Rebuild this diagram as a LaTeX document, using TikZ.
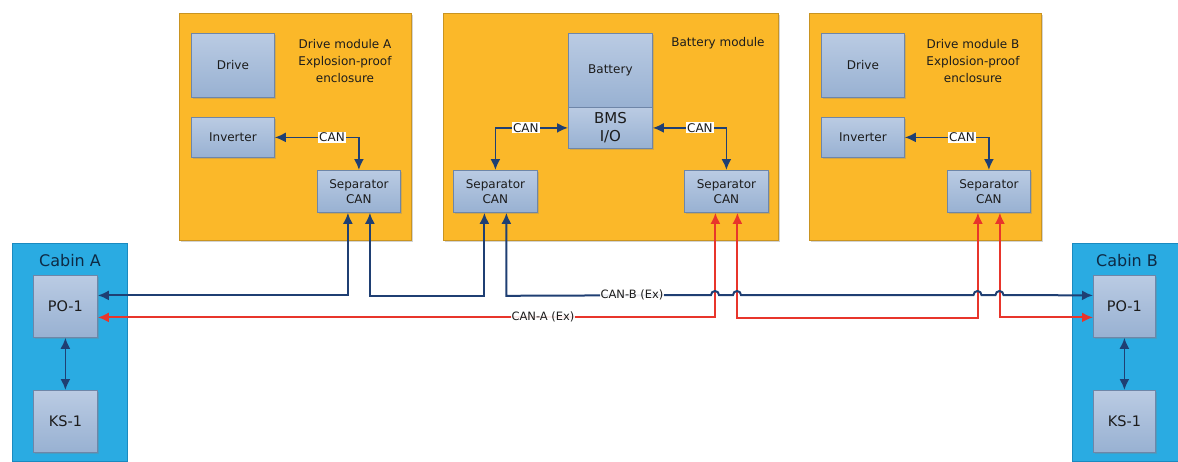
\documentclass[tikz,border=0pt]{standalone}
\usepackage{fontspec}
\setmainfont{DejaVu Sans}
\usetikzlibrary{arrows.meta,shadows}
\definecolor{orng}{HTML}{FBB829}
\definecolor{orngdk}{HTML}{C99421}
\definecolor{blktop}{HTML}{BACBE3}
\definecolor{blkbot}{HTML}{98B1D2}
\definecolor{blkbd}{HTML}{6E86A8}
\definecolor{cabfill}{HTML}{2AABE2}
\definecolor{cabbd}{HTML}{1A8AC0}
\definecolor{navy}{HTML}{1F3F73}
\definecolor{redln}{HTML}{E8352B}
\definecolor{txt}{HTML}{1C1C1C}
\definecolor{cabtxt}{HTML}{0E2A44}
\begin{document}
\begin{tikzpicture}[x=1pt,y=-1pt,
  >={Latex[length=11pt,width=10pt]},
  module/.style={draw=orngdk, line width=0.9pt, fill=orng, anchor=north west, inner sep=0pt,
    drop shadow={shadow xshift=2pt, shadow yshift=-2pt, opacity=0.35}},
  blk/.style={draw=blkbd, line width=0.8pt, top color=blktop, bottom color=blkbot, anchor=north west,
    inner sep=0pt, align=center, text=txt, font=\fontsize{12}{15}\selectfont,
    drop shadow={shadow xshift=1.5pt, shadow yshift=-1.5pt, opacity=0.3}},
  cabin/.style={draw=cabbd, line width=0.9pt, fill=cabfill, anchor=north west, inner sep=0pt},
  modtxt/.style={align=center, text=txt, font=\fontsize{12}{17}\selectfont},
  busB/.style={draw=navy, line width=2pt},
  busR/.style={draw=redln, line width=2pt},
  inner/.style={draw=navy, line width=1.8pt},
  canlbl/.style={fill=white, inner sep=1pt, text=txt, font=\fontsize{12}{14}\selectfont},
  buslbl/.style={fill=white, fill opacity=0.9, text opacity=1, inner sep=1pt, text=txt, font=\fontsize{11.5}{14}\selectfont}
]
\useasboundingbox (0,0) rectangle (1178,461);

% modules
\node[module, minimum width=232pt, minimum height=227pt] (modA) at (179,13) {};
\node[module, minimum width=335pt, minimum height=227pt] (modBat) at (443,13) {};
\node[module, minimum width=232pt, minimum height=227pt] (modB) at (809,13) {};
\node[cabin, minimum width=115pt, minimum height=218pt] (cabA) at (12,243) {};
\node[cabin, minimum width=106pt, minimum height=218pt] (cabB) at (1072,243) {};

% module titles
\node[modtxt] (modAtxt) at (345,61) {Drive module A\\Explosion-proof\\enclosure};
\node[modtxt] (modBtxt) at (973,61) {Drive module B\\Explosion-proof\\enclosure};
\node[modtxt] (modBattxt) at (718,43) {Battery module};
\node[text=cabtxt, font=\fontsize{16}{18}\selectfont] (cabAtxt) at (70,261) {Cabin A};
\node[text=cabtxt, font=\fontsize{16}{18}\selectfont] (cabBtxt) at (1127,261) {Cabin B};

% drive module A
\node[blk, minimum width=83pt, minimum height=64pt] (drvA) at (191,33) {Drive};
\node[blk, minimum width=83pt, minimum height=40pt] (invA) at (191,117) {Inverter};
\node[blk, minimum width=83pt, minimum height=42pt] (sepA) at (317,170) {Separator\\CAN};

% battery module
\node[blk, minimum width=84pt, minimum height=74pt] (bat) at (568,33) {Battery};
\node[blk, minimum width=84pt, minimum height=41pt, font=\fontsize{15}{18}\selectfont] (bms) at (568,107) {BMS\\I/O};
\node[blk, minimum width=84pt, minimum height=42pt] (sepL) at (453,170) {Separator\\CAN};
\node[blk, minimum width=84pt, minimum height=42pt] (sepR) at (684,170) {Separator\\CAN};

% drive module B
\node[blk, minimum width=83pt, minimum height=64pt] (drvB) at (821,33) {Drive};
\node[blk, minimum width=83pt, minimum height=40pt] (invB) at (821,117) {Inverter};
\node[blk, minimum width=83pt, minimum height=42pt] (sepB) at (947,170) {Separator\\CAN};

% cabins
\node[blk, minimum width=64pt, minimum height=62pt, font=\fontsize{14.5}{16}\selectfont] (poA) at (33,275) {PO-1};
\node[blk, minimum width=64pt, minimum height=62pt, font=\fontsize{14.5}{16}\selectfont] (ksA) at (33,390) {KS-1};
\node[blk, minimum width=62pt, minimum height=62pt, font=\fontsize{14.5}{16}\selectfont] (poB) at (1093,275) {PO-1};
\node[blk, minimum width=62pt, minimum height=62pt, font=\fontsize{14.5}{16}\selectfont] (ksB) at (1093,390) {KS-1};

% internal CAN links
\draw[inner, <->] (invA.east) -| node[canlbl, pos=0.34] (canA) {CAN} (sepA.north);
\draw[inner, <->] (bms.west) -| node[canlbl, pos=0.29] (canL) {CAN} (sepL.north);
\draw[inner, <->] (bms.east) -| node[canlbl, pos=0.32] (canR) {CAN} (sepR.north);
\draw[inner, <->] (invB.east) -| node[canlbl, pos=0.34] (canB) {CAN} (sepB.north);
\draw[inner, <->] (poA.south) -- (ksA.north);
\draw[inner, <->] (poB.south) -- (ksB.north);

% red bus CAN-A
\draw[busR, <->] ([xshift=-11pt]sepR.south) |- ([yshift=-11pt]poA.east);
\draw[busR, <->] ([xshift=11pt]sepR.south) -- ++(0,105) -| ([xshift=-11pt]sepB.south);
\draw[busR, <->] ([xshift=11pt]sepB.south) |- ([yshift=-11pt]poB.west);

% blue bus CAN-B
\draw[busB, <->] ([xshift=-11pt]sepA.south) |- ([yshift=11pt]poA.east);
\draw[busB, <->] ([xshift=11pt]sepA.south) -- ++(0,83) -| ([xshift=-11pt]sepL.south);
\draw[busB, <->] ([xshift=11pt]sepL.south) -- ++(0,83) -- (711,295)
  arc[start angle=180, end angle=0, radius=4pt] -- (733,295)
  arc[start angle=180, end angle=0, radius=4pt] -- (973.5,295)
  arc[start angle=180, end angle=0, radius=4pt] -- (995.5,295)
  arc[start angle=180, end angle=0, radius=4pt] -- ([yshift=11pt]poB.west);

\node[buslbl] (lblB) at (632,295) {CAN-B (Ex)};
\node[buslbl] (lblA) at (543,317) {CAN-A (Ex)};
\end{tikzpicture}
\end{document}
